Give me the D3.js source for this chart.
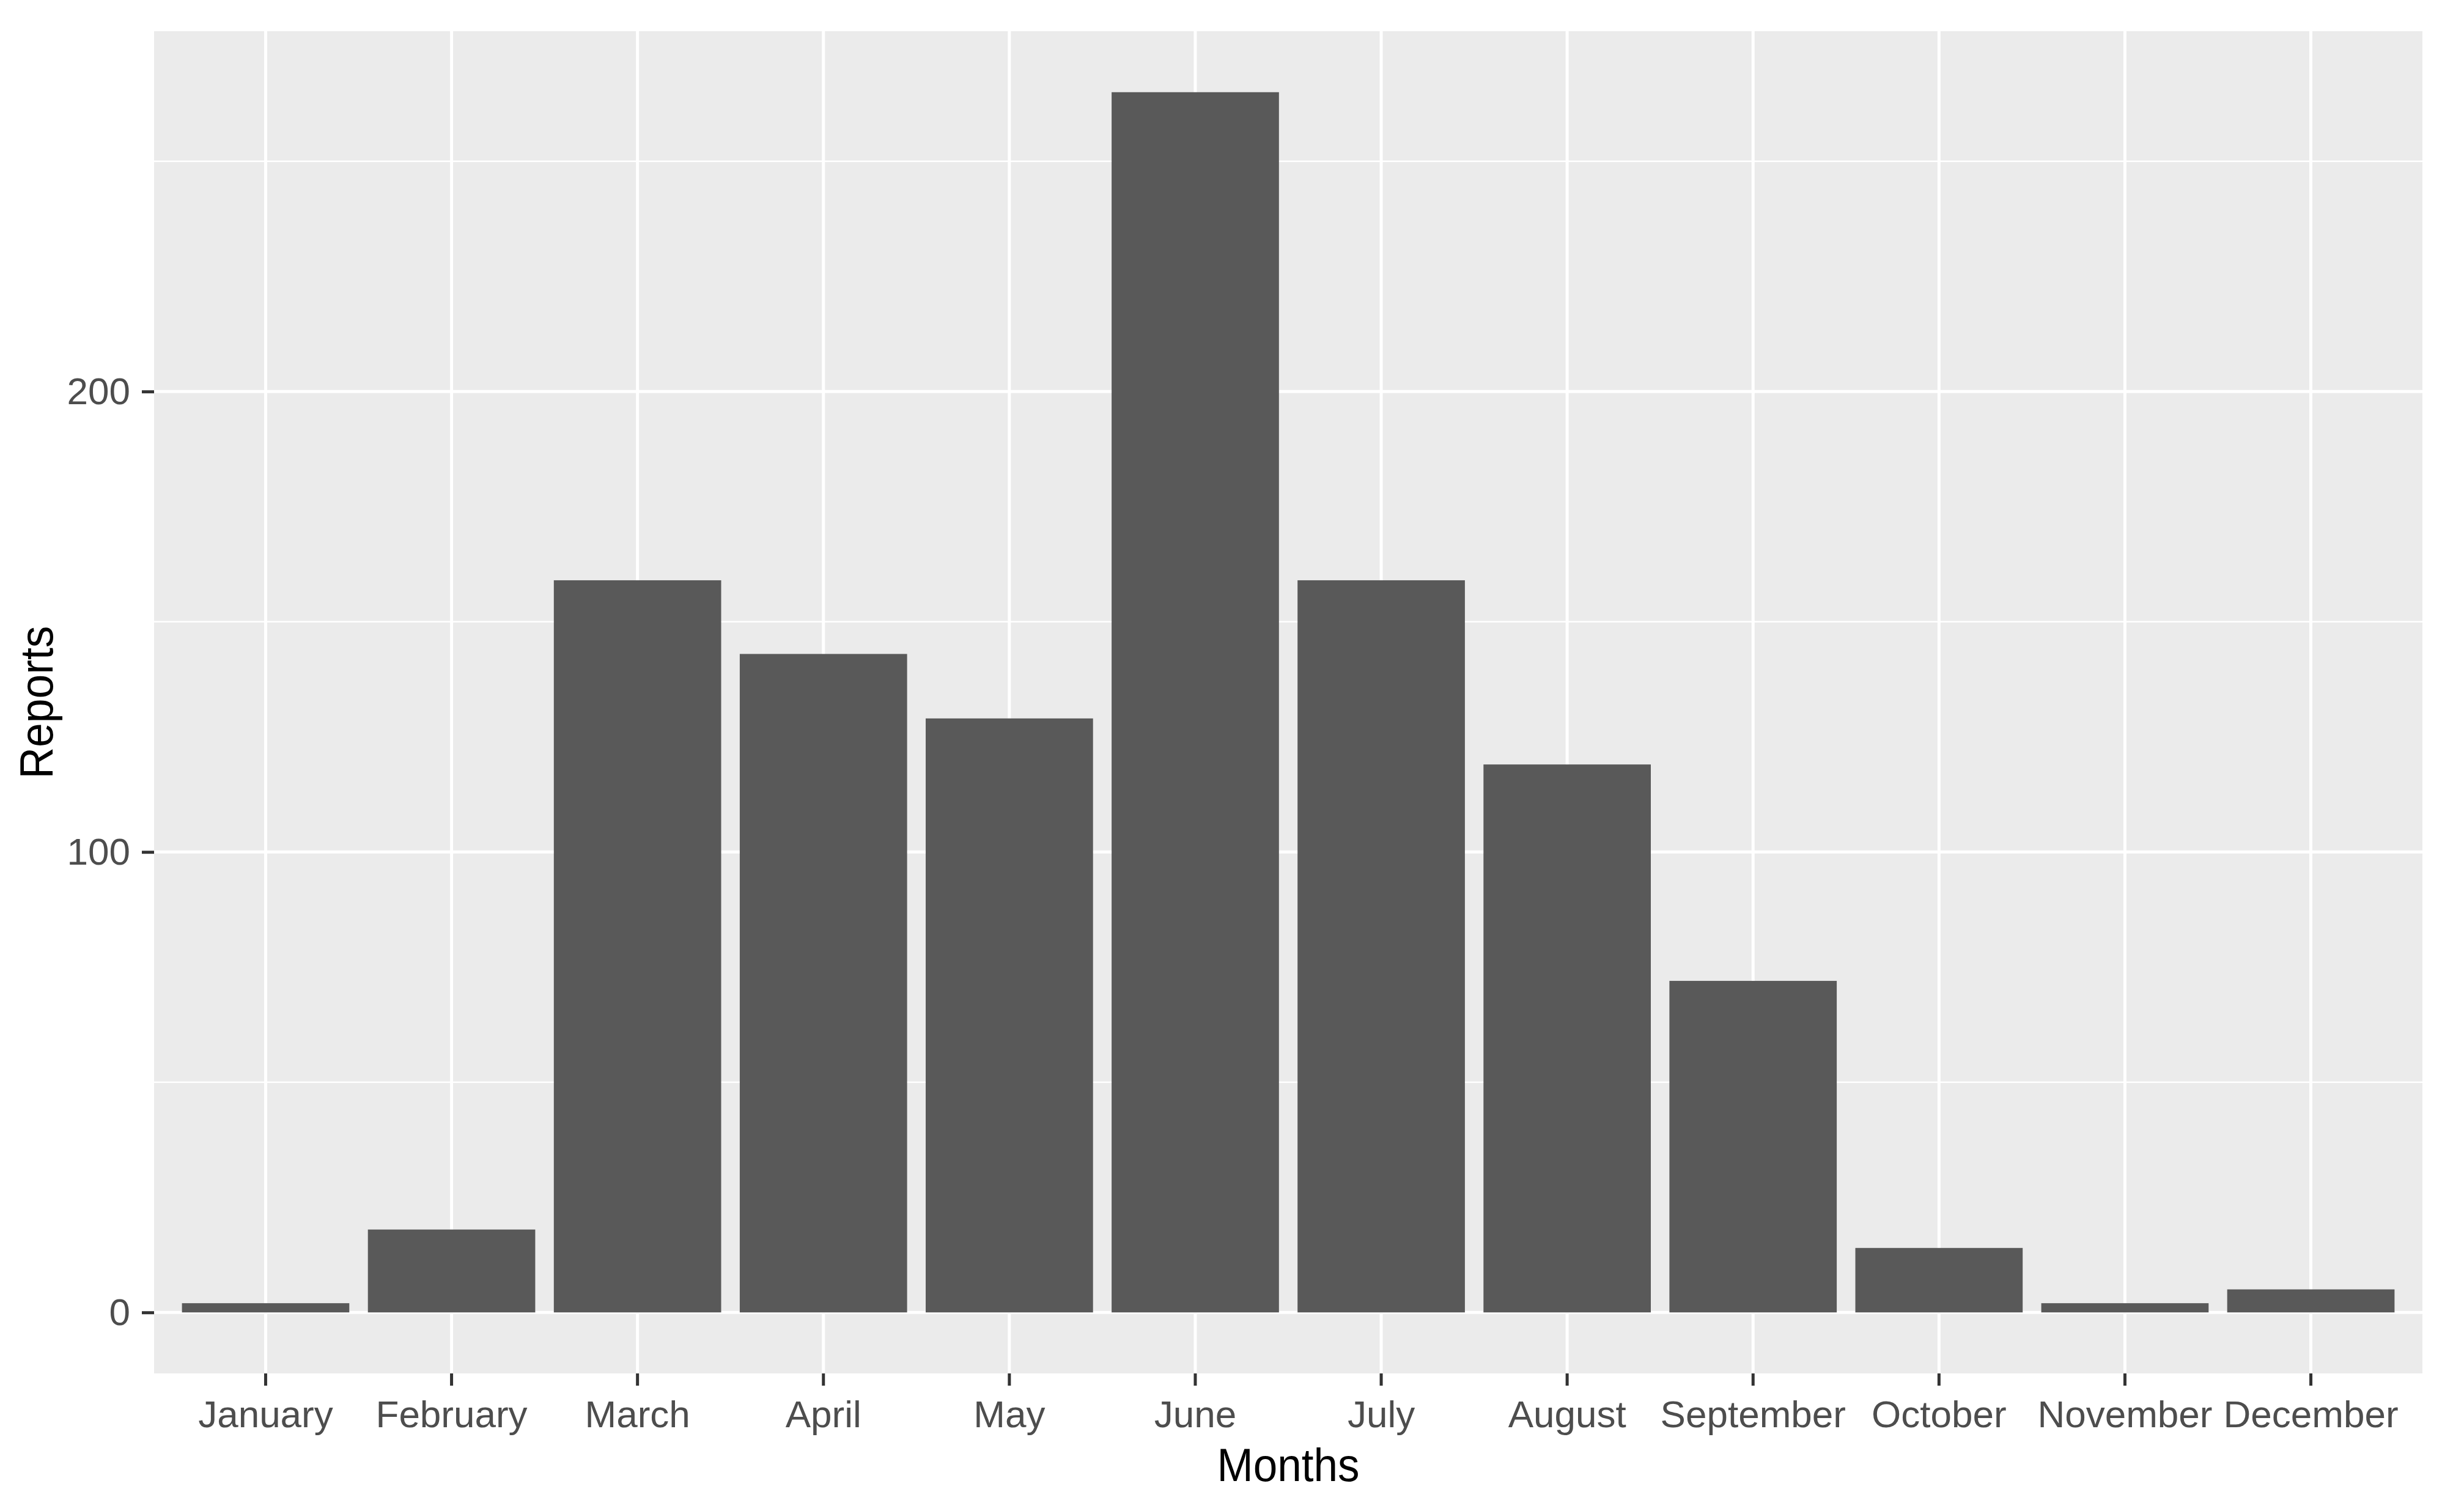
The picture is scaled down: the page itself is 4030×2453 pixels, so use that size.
<!DOCTYPE html>
<html>
<head>
<meta charset="utf-8">
<script src="https://cdn.jsdelivr.net/npm/d3@7"></script>
<style>
  html, body { margin: 0; padding: 0; background: #ffffff; }
  svg { display: block; font-family: "Liberation Sans", Arial, sans-serif; }
</style>
</head>
<body>
<svg id="chart"></svg>
<script>
// data
const months = ["January", "February", "March", "April", "May", "June",
  "July", "August", "September", "October", "November", "December"];
const reports = [2, 18, 159, 143, 129, 265, 159, 119, 72, 14, 2, 5];
const yTicks = [0, 100, 200];
const yMinorTicks = [50, 150, 250];

const width = 4030;
const height = 2453;
const panel = { left: 252, right: 3962, top: 51, bottom: 2246 };

const svg = d3.select("#chart")
  .attr("width", width)
  .attr("height", height);

svg.append("rect")
  .attr("width", width)
  .attr("height", height)
  .attr("fill", "#ffffff");

const xScale = d3.scaleBand()
  .domain(months)
  .range([panel.left, panel.right])
  .paddingInner(0.1)
  .paddingOuter(0.15);

// ggplot style 5% expansion of the y range
const yMax = d3.max(reports);
const yScale = d3.scaleLinear()
  .domain([-0.05 * yMax, yMax * 1.05])
  .range([panel.bottom, panel.top]);

// panel background
svg.append("rect")
  .attr("x", panel.left)
  .attr("y", panel.top)
  .attr("width", panel.right - panel.left)
  .attr("height", panel.bottom - panel.top)
  .attr("fill", "#ebebeb");

// grid lines
const grid = svg.append("g").attr("class", "grid");
grid.selectAll(".minor")
  .data(yMinorTicks)
  .enter()
  .append("line")
  .attr("x1", panel.left)
  .attr("x2", panel.right)
  .attr("y1", d => yScale(d))
  .attr("y2", d => yScale(d))
  .attr("stroke", "#ffffff")
  .attr("stroke-width", 2.6);
grid.selectAll(".major")
  .data(yTicks)
  .enter()
  .append("line")
  .attr("x1", panel.left)
  .attr("x2", panel.right)
  .attr("y1", d => yScale(d))
  .attr("y2", d => yScale(d))
  .attr("stroke", "#ffffff")
  .attr("stroke-width", 5);
grid.selectAll(".vert")
  .data(months)
  .enter()
  .append("line")
  .attr("x1", d => xScale(d) + xScale.bandwidth() / 2)
  .attr("x2", d => xScale(d) + xScale.bandwidth() / 2)
  .attr("y1", panel.top)
  .attr("y2", panel.bottom)
  .attr("stroke", "#ffffff")
  .attr("stroke-width", 5);

// bars
svg.selectAll(".bar")
  .data(months.map((m, i) => ({ month: m, value: reports[i] })))
  .enter()
  .append("rect")
  .classed("bar", true)
  .attr("x", d => xScale(d.month))
  .attr("width", xScale.bandwidth())
  .attr("y", d => yScale(d.value))
  .attr("height", d => yScale(0) - yScale(d.value))
  .attr("fill", "#595959");

// axes
const xAxis = d3.axisBottom(xScale).tickSize(20).tickPadding(24);
const xAxisGroup = svg.append("g")
  .attr("transform", `translate(0,${panel.bottom})`)
  .call(xAxis);

const yAxis = d3.axisLeft(yScale).tickValues(yTicks).tickSize(20).tickPadding(19);
const yAxisGroup = svg.append("g")
  .attr("transform", `translate(${panel.left},0)`)
  .call(yAxis);

[xAxisGroup, yAxisGroup].forEach(g => {
  g.select(".domain").remove();
  g.selectAll(".tick line")
    .attr("stroke", "#333333")
    .attr("stroke-width", 5);
  g.selectAll(".tick text")
    .attr("fill", "#4d4d4d")
    .style("font-size", "62px")
    .style("font-family", "'Liberation Sans', Arial, sans-serif");
});

// axis titles
svg.append("text")
  .attr("x", (panel.left + panel.right) / 2)
  .attr("y", 2422)
  .attr("text-anchor", "middle")
  .attr("fill", "#000000")
  .attr("textLength", 233)
  .attr("lengthAdjust", "spacingAndGlyphs")
  .style("font-size", "76px")
  .text("Months");

svg.append("text")
  .attr("transform", `translate(86,${(panel.top + panel.bottom) / 2}) rotate(-90)`)
  .attr("text-anchor", "middle")
  .attr("fill", "#000000")
  .attr("textLength", 250)
  .attr("lengthAdjust", "spacingAndGlyphs")
  .style("font-size", "76px")
  .text("Reports");
</script>
</body>
</html>
